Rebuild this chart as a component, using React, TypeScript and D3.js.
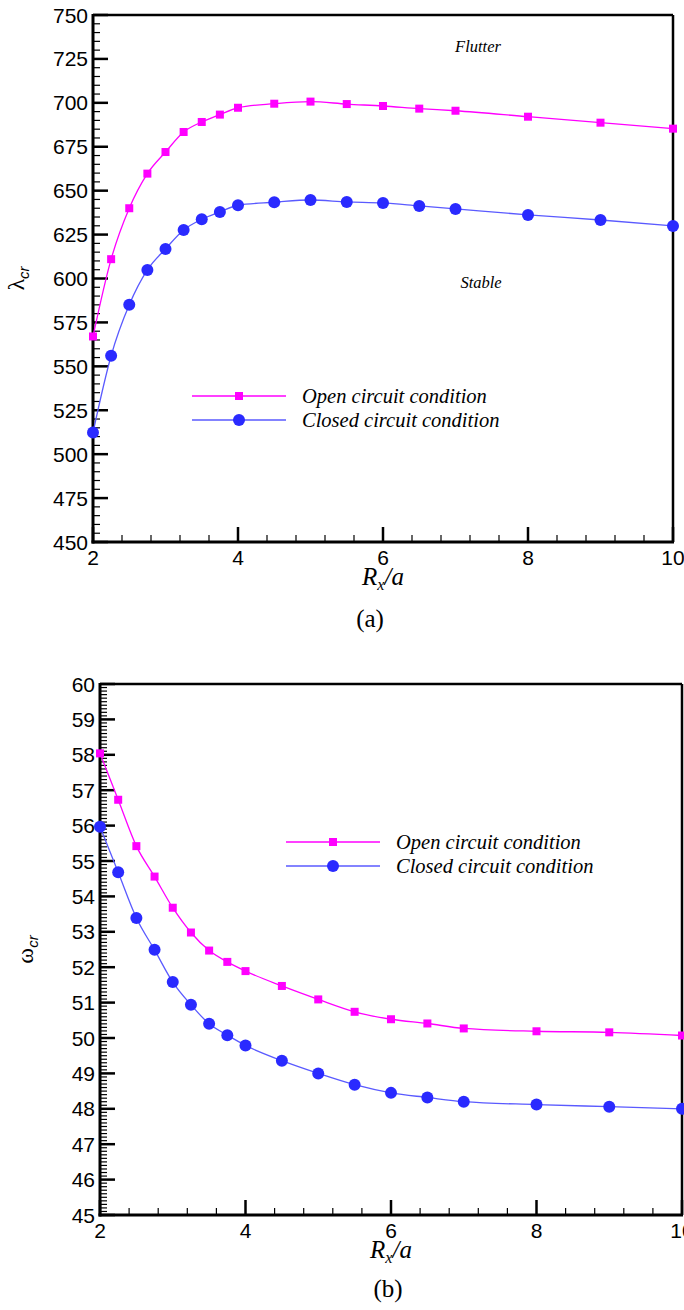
import React from 'react';
import * as d3 from 'd3';

// Normalised distance R_x/a at which the critical values were computed
const rxA = [2, 2.25, 2.5, 2.75, 3, 3.25, 3.5, 3.75, 4, 4.5, 5, 5.5, 6, 6.5, 7, 8, 9, 10];

// Critical aerodynamic pressure λ_cr
const lambdaOpen = [567, 611, 640, 659.7, 672, 683.4, 689.1, 693.3, 697.2, 699.5, 700.7, 699.3, 698.2, 696.7, 695.5, 692.1, 688.7, 685.3];
const lambdaClosed = [512.3, 556, 585, 604.9, 616.8, 627.6, 633.7, 637.9, 641.7, 643.4, 644.7, 643.6, 643, 641.3, 639.6, 636.2, 633.3, 629.9];

// Critical frequency ω_cr
const omegaOpen = [58.04, 56.73, 55.42, 54.56, 53.68, 52.98, 52.47, 52.15, 51.89, 51.47, 51.09, 50.74, 50.53, 50.41, 50.27, 50.19, 50.16, 50.07];
const omegaClosed = [55.97, 54.68, 53.39, 52.49, 51.58, 50.94, 50.4, 50.08, 49.79, 49.36, 49.0, 48.68, 48.45, 48.32, 48.2, 48.12, 48.06, 48.0];

const xTicks = [2, 4, 6, 8, 10];
const lambdaTicks = [450, 475, 500, 525, 550, 575, 600, 625, 650, 675, 700, 725, 750];
const omegaTicks = [45, 46, 47, 48, 49, 50, 51, 52, 53, 54, 55, 56, 57, 58, 59, 60];

const seriesNames = ['Open circuit condition', 'Closed circuit condition'];
const panelTags = ['(a)', '(b)'];
const regionLabels = ['Flutter', 'Stable'];

const MAGENTA = '#ff00ff';
const BLUE_MARK = '#2a2aff';
const BLUE_LINE = '#5a5aff';
const SANS = '"Liberation Sans", Arial, sans-serif';
const SERIF = '"Liberation Serif", "Times New Roman", serif';

type PanelProps = {
  left: number;
  right: number;
  top: number;
  bottom: number;
  yTicks: number[];
  yMinorPerMajor: number;
  open: number[];
  closed: number[];
  greek: string;
  legend: { x1: number; x2: number; y: number; dy: number };
  tag: string;
  tagX: number;
  tagY: number;
  titleY: number;
  yLabelX: number;
  regions?: { flutter: [number, number]; stable: [number, number] };
};

function Panel(p: PanelProps) {
  const x = d3.scaleLinear().domain([2, 10]).range([p.left, p.right]);
  const yMin = p.yTicks[0];
  const yMax = p.yTicks[p.yTicks.length - 1];
  const y = d3.scaleLinear().domain([yMin, yMax]).range([p.bottom, p.top]);

  const line = d3
    .line<[number, number]>()
    .x((d) => x(d[0]))
    .y((d) => y(d[1]))
    .curve(d3.curveMonotoneX);

  const openPts = rxA.map((v, i) => [v, p.open[i]] as [number, number]);
  const closedPts = rxA.map((v, i) => [v, p.closed[i]] as [number, number]);

  // x minor ticks: 4 between each pair of majors
  const xMinor: number[] = [];
  for (let i = 0; i < xTicks.length - 1; i++) {
    const a = xTicks[i];
    const b = xTicks[i + 1];
    for (let k = 1; k < 5; k++) xMinor.push(a + ((b - a) * k) / 5);
  }
  const yMinor: number[] = [];
  for (let i = 0; i < p.yTicks.length - 1; i++) {
    const a = p.yTicks[i];
    const b = p.yTicks[i + 1];
    for (let k = 1; k < p.yMinorPerMajor; k++) yMinor.push(a + ((b - a) * k) / p.yMinorPerMajor);
  }

  const midX = (p.left + p.right) / 2;
  const midY = (p.top + p.bottom) / 2;
  const sq = 8;
  const r = 6;

  return (
    <g>
      {/* frame */}
      <line x1={p.left} x2={p.right} y1={p.top} y2={p.top} stroke="#000" strokeWidth={2.5} />
      <line x1={p.right} x2={p.right} y1={p.top} y2={p.bottom} stroke="#000" strokeWidth={2.5} />
      <line x1={p.left} x2={p.left} y1={p.top - 1} y2={p.bottom + 1.5} stroke="#000" strokeWidth={3} />
      <line x1={p.left - 1.5} x2={p.right + 1} y1={p.bottom} y2={p.bottom} stroke="#000" strokeWidth={3} />

      {/* y ticks */}
      {yMinor.map((v) => (
        <line key={'ym' + v} x1={p.left} x2={p.left + 7} y1={y(v)} y2={y(v)} stroke="#000" strokeWidth={1.2} />
      ))}
      {p.yTicks.map((v) => (
        <g key={'y' + v}>
          <line x1={p.left} x2={p.left + 15} y1={y(v)} y2={y(v)} stroke="#000" strokeWidth={2.5} />
          <text
            x={p.left - 5}
            y={y(v)}
            dy="0.36em"
            textAnchor="end"
            fontFamily={SANS}
            fontSize={21}
            fill="#000"
          >
            {v}
          </text>
        </g>
      ))}

      {/* x ticks */}
      {xMinor.map((v) => (
        <line key={'xm' + v} x1={x(v)} x2={x(v)} y1={p.bottom} y2={p.bottom - 7} stroke="#000" strokeWidth={1.2} />
      ))}
      {xTicks.map((v) => (
        <g key={'x' + v}>
          <line x1={x(v)} x2={x(v)} y1={p.bottom} y2={p.bottom - 15} stroke="#000" strokeWidth={2.5} />
          <text
            x={x(v)}
            y={p.bottom + 23}
            textAnchor="middle"
            fontFamily={SANS}
            fontSize={21}
            fill="#000"
          >
            {v}
          </text>
        </g>
      ))}

      {/* axis titles */}
      <text x={midX} y={p.titleY} textAnchor="middle" fontFamily={SERIF} fontSize={25} fontStyle="italic" fill="#000">
        <tspan>R</tspan>
        <tspan fontSize={16} dy={5}>x</tspan>
        <tspan dy={-5}>/a</tspan>
      </text>
      <text
        transform={`translate(${p.yLabelX},${midY}) rotate(-90)`}
        textAnchor="middle"
        fill="#000"
      >
        <tspan fontFamily={SERIF} fontSize={24}>{p.greek}</tspan>
        <tspan fontFamily={SANS} fontStyle="italic" fontSize={15} dy={5}>cr</tspan>
      </text>

      {/* region annotations */}
      {p.regions && (
        <g fontFamily={SERIF} fontStyle="italic" fontSize={16.5} fill="#000" textAnchor="middle">
          <text x={p.regions.flutter[0]} y={p.regions.flutter[1]}>{regionLabels[0]}</text>
          <text x={p.regions.stable[0]} y={p.regions.stable[1]}>{regionLabels[1]}</text>
        </g>
      )}

      {/* curves */}
      <path d={line(openPts) || ''} fill="none" stroke={MAGENTA} strokeWidth={1.3} />
      <path d={line(closedPts) || ''} fill="none" stroke={BLUE_LINE} strokeWidth={1.3} />
      {openPts.map((d, i) => (
        <rect key={'o' + i} x={x(d[0]) - sq / 2} y={y(d[1]) - sq / 2} width={sq} height={sq} fill={MAGENTA} />
      ))}
      {closedPts.map((d, i) => (
        <circle key={'c' + i} cx={x(d[0])} cy={y(d[1])} r={r} fill={BLUE_MARK} />
      ))}

      {/* legend */}
      <g>
        <line x1={p.legend.x1} x2={p.legend.x2} y1={p.legend.y} y2={p.legend.y} stroke={MAGENTA} strokeWidth={1.3} />
        <rect
          x={(p.legend.x1 + p.legend.x2) / 2 - sq / 2}
          y={p.legend.y - sq / 2}
          width={sq}
          height={sq}
          fill={MAGENTA}
        />
        <line
          x1={p.legend.x1}
          x2={p.legend.x2}
          y1={p.legend.y + p.legend.dy}
          y2={p.legend.y + p.legend.dy}
          stroke={BLUE_LINE}
          strokeWidth={1.3}
        />
        <circle cx={(p.legend.x1 + p.legend.x2) / 2} cy={p.legend.y + p.legend.dy} r={r} fill={BLUE_MARK} />
        <g fontFamily={SERIF} fontStyle="italic" fontSize={20.5} fill="#000">
          <text x={p.legend.x2 + 16} y={p.legend.y} dy="0.33em">{seriesNames[0]}</text>
          <text x={p.legend.x2 + 16} y={p.legend.y + p.legend.dy} dy="0.33em">{seriesNames[1]}</text>
        </g>
      </g>

      {/* panel tag */}
      <text x={p.tagX} y={p.tagY} textAnchor="middle" fontFamily={SERIF} fontSize={25} fill="#000">
        {p.tag}
      </text>
    </g>
  );
}

export default function App() {
  return (
    <svg
      width={684}
      height={1310}
      viewBox="0 0 684 1310"
      style={{ position: 'absolute', left: 0, top: 0, background: '#fff' }}
    >
      <rect x={0} y={0} width={684} height={1310} fill="#fff" />
      <Panel
        left={93}
        right={673}
        top={15}
        bottom={542}
        yTicks={lambdaTicks}
        yMinorPerMajor={5}
        open={lambdaOpen}
        closed={lambdaClosed}
        greek="λ"
        legend={{ x1: 192, x2: 286, y: 396, dy: 24 }}
        tag={panelTags[0]}
        tagX={370}
        tagY={627}
        titleY={585}
        yLabelX={24}
        regions={{ flutter: [478, 52], stable: [481, 288] }}
      />
      <Panel
        left={100}
        right={682}
        top={684}
        bottom={1215}
        yTicks={omegaTicks}
        yMinorPerMajor={10}
        open={omegaOpen}
        closed={omegaClosed}
        greek="ω"
        legend={{ x1: 286, x2: 380, y: 842, dy: 24 }}
        tag={panelTags[1]}
        tagX={388}
        tagY={1297}
        titleY={1258}
        yLabelX={33}
      />
    </svg>
  );
}
